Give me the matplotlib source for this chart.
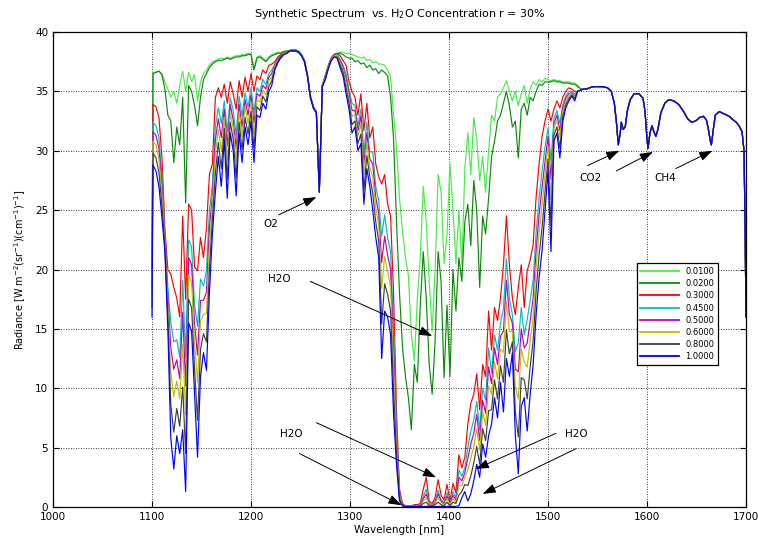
import numpy as np
import matplotlib
matplotlib.use("Agg")
import matplotlib.pyplot as plt

# wavelength sampling of the noisy part (nm), then the smooth tail shared by all curves
wl = [1100] + list(range(1101, 1540, 3))

tail_wl = [1542, 1546, 1550, 1555, 1560, 1564, 1567, 1569, 1571, 1573,
           1574, 1576, 1578, 1580, 1583, 1587, 1592, 1596, 1598, 1600,
           1601, 1603, 1605, 1607, 1609, 1611, 1614, 1618, 1622, 1627,
           1632, 1637, 1641, 1645, 1649, 1653, 1657, 1660, 1662, 1664,
           1665, 1667, 1669, 1673, 1678, 1683, 1687, 1690, 1693, 1696,
           1698, 1699, 1700]
tail_rad = [35.3, 35.4, 35.4, 35.4, 35.3, 35.0, 34.0, 32.5, 30.5, 31.5,
            32.4, 31.8, 32.0, 33.3, 34.3, 34.8, 34.8, 34.4, 33.3, 31.0,
            30.2, 31.5, 32.1, 31.6, 31.2, 31.8, 33.2, 34.0, 34.3, 34.2,
            33.9, 33.3, 32.7, 32.4, 32.5, 32.8, 32.9, 32.6, 31.8, 30.8,
            30.5, 31.8, 33.0, 33.3, 33.1, 32.9, 32.6, 32.4, 32.1, 31.6,
            30.0, 24.0, 16.0]

conc_labels = ["0.0100", "0.0200", "0.3000", "0.4500",
               "0.5000", "0.6000", "0.8000", "1.0000"]

rad_001 = [20.0, 36.6, 36.6, 36.7, 36.5, 35.8, 35.2, 34.5, 35.0, 34.0,
           35.5, 36.7, 35.0, 36.6, 35.8, 36.4, 34.2, 35.8, 36.5, 36.8,
           37.2, 37.5, 37.6, 37.7, 37.8, 37.7, 37.9, 37.8, 37.9, 38.0,
           38.0, 38.1, 38.1, 38.2, 38.2, 36.9, 37.9, 38.0, 37.8, 37.6,
           37.9, 38.1, 38.2, 38.3, 38.3, 38.4, 38.4, 38.5, 38.5, 38.5,
           38.4, 38.1, 37.6, 36.4, 34.6, 33.7, 33.3, 26.6, 35.5, 36.3,
           37.2, 37.8, 38.1, 38.2, 38.3, 38.3, 38.2, 38.2, 38.1, 38.0,
           37.9, 37.8, 37.9, 37.6, 37.7, 37.4, 37.5, 37.3, 37.3, 37.2,
           36.8, 36.2, 33.0, 30.3, 26.0, 23.3, 21.0, 19.5, 14.5, 12.3,
           17.5, 21.0, 27.0, 24.0, 19.0, 14.8, 20.0, 28.0, 26.5, 20.5,
           23.0, 28.9, 25.0, 20.5, 25.0, 20.4, 28.5, 31.5, 28.0, 32.8,
           31.0, 27.5, 29.5, 26.5, 30.0, 33.0, 32.5, 34.5, 34.8, 35.3,
           35.9, 35.0, 34.2, 35.0, 33.8, 34.8, 35.5, 34.0, 35.2, 35.8,
           35.5, 36.0, 35.8, 36.1, 36.0, 35.9, 36.0, 35.9, 35.9, 35.8,
           35.8, 35.8, 35.7, 35.7, 35.5, 35.2, 35.2, 35.2]

rad_002 = [20.0, 36.5, 36.6, 36.7, 36.4, 35.2, 33.0, 32.5, 29.0, 32.0,
           30.5, 34.5, 25.6, 35.5, 35.0, 33.8, 32.1, 34.5, 36.0, 36.5,
           37.0, 37.3, 37.5, 37.6, 37.6, 37.7, 37.8, 37.7, 37.8, 37.9,
           37.9, 38.0, 38.0, 38.1, 38.1, 36.8, 37.8, 37.9, 37.7, 37.5,
           37.8, 38.0, 38.1, 38.2, 38.2, 38.3, 38.4, 38.4, 38.5, 38.5,
           38.4, 38.1, 37.6, 36.4, 34.6, 33.7, 33.3, 26.6, 35.5, 36.3,
           37.1, 37.8, 38.1, 38.2, 38.2, 38.1, 37.9, 37.8, 37.8, 37.5,
           37.6, 37.3, 37.4, 37.0, 37.2, 36.8, 36.9, 36.5, 36.8, 36.6,
           36.3, 34.5, 31.0, 24.0, 18.0, 13.5, 11.0, 9.2, 6.5, 12.0,
           10.5, 17.0, 21.5, 17.6, 12.0, 9.5, 14.0, 21.5, 19.0, 10.9,
           17.0, 11.0, 20.0, 16.5, 21.0, 19.0, 24.0, 25.5, 22.0, 27.5,
           25.0, 18.5, 24.5, 23.0, 26.0, 29.5, 30.8, 32.5, 33.0, 34.0,
           35.0, 33.8, 32.0, 32.5, 29.4, 33.5, 34.0, 33.0, 34.5, 34.2,
           35.0, 35.6, 35.5, 35.8, 35.8, 35.8, 35.9, 35.8, 35.8, 35.7,
           35.7, 35.7, 35.6, 35.6, 35.4, 35.2, 35.2, 35.2]

rad_030 = [20.0, 33.9, 33.7, 32.8, 29.5, 23.5, 20.0, 19.6, 18.5, 17.6,
           16.0, 24.5, 17.5, 25.5, 25.0, 20.2, 19.9, 22.7, 21.0, 23.5,
           28.0, 28.9, 34.5, 35.3, 34.5, 35.6, 34.0, 35.8, 34.8, 33.5,
           35.9, 34.5, 36.2, 35.0, 36.5, 35.0, 36.3, 36.0, 36.8, 36.5,
           37.2, 37.3, 37.5, 37.9, 38.1, 38.3, 38.3, 38.4, 38.5, 38.5,
           38.4, 38.1, 37.6, 36.4, 34.6, 33.7, 33.3, 26.6, 35.5, 36.3,
           37.1, 37.8, 38.1, 38.2, 38.0, 37.6, 37.2, 35.8, 35.0, 34.5,
           33.0, 34.8, 31.7, 34.0, 31.1, 32.0, 28.9, 27.8, 27.2, 28.0,
           25.5, 24.5, 18.0, 8.0, 1.5, 0.3, 0.1, 0.1, 0.1, 0.2,
           0.2, 0.3, 1.5, 2.5, 0.5, 0.3, 0.8, 2.3, 1.0, 0.6,
           1.9, 0.5, 2.0, 1.2, 4.4, 3.3, 4.2, 7.0, 8.7, 9.5,
           11.2, 8.2, 12.0, 11.0, 16.5, 13.2, 16.8, 15.7, 17.6, 20.4,
           24.5, 20.4, 17.6, 16.2, 18.5, 20.4, 16.8, 19.9, 20.8, 22.1,
           26.1, 28.9, 31.2, 32.5, 33.5, 32.5, 33.5, 34.2, 33.6, 34.5,
           35.0, 35.3, 35.2, 35.0, 35.0, 35.1, 35.2, 35.2]

rad_045 = [18.8, 32.4, 32.1, 31.1, 28.0, 22.9, 18.5, 15.5, 13.9, 14.1,
           12.6, 19.1, 12.6, 22.5, 21.9, 17.0, 15.2, 19.2, 18.6, 19.9,
           25.0, 27.1, 32.1, 33.6, 32.3, 34.2, 31.6, 34.5, 33.4, 31.3,
           34.6, 32.9, 34.9, 33.7, 35.3, 33.2, 35.3, 35.0, 36.0, 35.6,
           36.5, 36.8, 37.3, 37.8, 38.0, 38.2, 38.3, 38.4, 38.5, 38.5,
           38.4, 38.1, 37.6, 36.4, 34.6, 33.7, 33.3, 26.6, 35.5, 36.2,
           37.0, 37.7, 38.0, 38.1, 37.7, 37.2, 36.5, 35.1, 34.0, 33.8,
           32.1, 33.5, 29.8, 32.4, 29.9, 29.9, 27.0, 25.8, 22.8, 24.6,
           22.7, 21.5, 14.9, 6.7, 1.2, 0.2, 0.1, 0.1, 0.1, 0.1,
           0.1, 0.2, 0.9, 1.5, 0.3, 0.2, 0.5, 1.4, 0.6, 0.4,
           1.2, 0.3, 1.3, 0.8, 3.1, 2.6, 3.3, 5.0, 6.4, 7.3,
           8.9, 6.5, 10.0, 9.0, 13.4, 11.3, 14.5, 13.2, 15.5, 16.7,
           20.9, 17.6, 16.2, 13.1, 13.8, 16.8, 14.5, 15.8, 17.4, 19.1,
           23.1, 26.0, 28.3, 30.3, 31.9, 29.2, 32.7, 33.4, 32.3, 33.9,
           34.6, 35.0, 35.0, 34.8, 35.0, 35.1, 35.2, 35.2]

rad_050 = [18.2, 31.6, 31.3, 30.2, 27.2, 22.6, 17.8, 13.4, 11.6, 12.4,
           10.8, 16.4, 10.2, 21.0, 20.4, 15.4, 12.8, 17.4, 17.4, 18.1,
           23.5, 26.2, 30.9, 32.7, 31.1, 33.5, 30.4, 33.9, 32.6, 30.2,
           33.9, 32.0, 34.3, 33.0, 34.7, 32.3, 34.8, 34.6, 35.5, 35.2,
           36.2, 36.5, 37.2, 37.7, 38.0, 38.2, 38.2, 38.4, 38.4, 38.4,
           38.3, 38.0, 37.5, 36.3, 34.5, 33.6, 33.2, 26.5, 35.4, 36.1,
           37.0, 37.7, 38.0, 38.0, 37.6, 37.0, 36.1, 34.8, 33.4, 33.4,
           31.7, 32.9, 28.9, 31.5, 29.3, 28.9, 26.1, 24.7, 20.6, 22.8,
           21.2, 20.0, 13.4, 6.0, 1.0, 0.2, 0.1, 0.1, 0.1, 0.1,
           0.1, 0.15, 0.7, 1.1, 0.2, 0.1, 0.4, 1.1, 0.5, 0.3,
           0.9, 0.3, 1.0, 0.6, 2.5, 2.2, 2.9, 4.1, 5.3, 6.2,
           7.8, 5.6, 9.0, 7.9, 11.8, 10.4, 13.4, 12.0, 14.4, 14.8,
           19.1, 16.2, 15.5, 11.6, 11.4, 15.0, 13.4, 13.8, 15.7, 17.6,
           21.6, 24.6, 26.9, 29.1, 31.2, 27.6, 32.3, 33.0, 31.7, 33.6,
           34.4, 34.8, 34.9, 34.6, 35.0, 35.1, 35.2, 35.2]

rad_060 = [17.6, 30.8, 30.5, 29.3, 26.4, 22.3, 17.0, 11.3, 9.3, 10.6,
           9.1, 13.7, 7.8, 19.5, 18.9, 13.8, 10.5, 15.7, 16.2, 16.3,
           22.0, 25.4, 29.7, 31.8, 30.0, 32.8, 29.2, 33.2, 31.9, 29.1,
           33.3, 31.2, 33.7, 32.3, 34.1, 31.4, 34.3, 34.1, 35.1, 34.7,
           35.9, 36.2, 37.1, 37.6, 37.9, 38.2, 38.2, 38.4, 38.4, 38.4,
           38.3, 38.0, 37.5, 36.3, 34.5, 33.6, 33.2, 26.5, 35.4, 36.1,
           37.0, 37.7, 38.0, 38.0, 37.4, 36.8, 35.8, 34.4, 32.9, 33.0,
           31.2, 32.3, 28.0, 30.7, 28.6, 27.8, 25.2, 23.7, 18.4, 21.1,
           19.8, 18.5, 11.9, 5.3, 0.9, 0.15, 0.1, 0.1, 0.1, 0.1,
           0.1, 0.1, 0.5, 0.8, 0.2, 0.1, 0.3, 0.8, 0.4, 0.2,
           0.7, 0.2, 0.7, 0.4, 1.8, 1.8, 2.5, 3.1, 4.1, 5.1,
           6.6, 4.8, 8.0, 6.9, 10.2, 9.5, 12.2, 10.8, 13.3, 13.0,
           17.3, 14.8, 14.8, 10.1, 9.1, 13.3, 12.2, 11.8, 14.0, 16.0,
           20.2, 23.1, 25.4, 28.0, 30.4, 25.9, 31.9, 32.6, 31.1, 33.3,
           34.2, 34.6, 34.8, 34.5, 35.0, 35.1, 35.2, 35.2]

rad_080 = [16.8, 29.8, 29.4, 28.2, 25.4, 21.9, 16.0, 8.6, 6.3, 8.3,
           6.8, 10.1, 4.5, 17.5, 16.8, 11.6, 7.3, 13.3, 14.6, 13.9,
           20.0, 24.2, 28.1, 30.7, 28.5, 31.9, 27.6, 32.4, 31.0, 27.7,
           32.4, 30.1, 32.8, 31.4, 33.3, 30.2, 33.7, 33.4, 34.6, 34.1,
           35.4, 35.9, 36.9, 37.5, 37.9, 38.1, 38.2, 38.4, 38.4, 38.4,
           38.3, 38.0, 37.5, 36.3, 34.5, 33.6, 33.2, 26.5, 35.4, 36.0,
           36.9, 37.6, 37.9, 37.9, 37.2, 36.6, 35.3, 34.0, 32.2, 32.5,
           30.6, 31.4, 26.7, 29.6, 27.8, 26.4, 24.0, 22.4, 15.4, 18.8,
           17.9, 16.5, 9.8, 4.4, 0.7, 0.1, 0.05, 0.05, 0.05, 0.05,
           0.05, 0.1, 0.3, 0.4, 0.1, 0.1, 0.2, 0.4, 0.2, 0.1,
           0.4, 0.1, 0.4, 0.3, 1.0, 1.3, 1.9, 1.8, 2.6, 3.7,
           5.1, 3.6, 6.6, 5.6, 8.1, 8.2, 10.7, 9.1, 11.9, 10.5,
           14.9, 12.9, 13.9, 8.0, 5.9, 10.9, 10.7, 9.1, 11.8, 14.0,
           18.2, 21.2, 23.5, 26.5, 29.3, 23.7, 31.3, 32.0, 30.2, 32.9,
           33.9, 34.4, 34.7, 34.4, 35.0, 35.1, 35.2, 35.2]

rad_100 = [16.0, 28.8, 28.3, 27.0, 24.4, 21.5, 15.0, 5.8, 3.2, 6.0,
           4.5, 6.5, 1.3, 15.5, 14.8, 9.5, 4.2, 11.0, 13.0, 11.5,
           18.0, 23.0, 26.5, 29.5, 27.0, 31.0, 26.0, 31.5, 30.0, 26.2,
           31.5, 29.0, 32.0, 30.5, 32.5, 29.0, 33.0, 32.8, 34.0, 33.5,
           35.0, 35.5, 36.8, 37.4, 37.8, 38.1, 38.2, 38.4, 38.4, 38.4,
           38.3, 38.0, 37.5, 36.3, 34.5, 33.6, 33.2, 26.5, 35.4, 36.0,
           36.9, 37.6, 37.9, 37.8, 37.0, 36.3, 34.8, 33.5, 31.5, 32.0,
           30.0, 30.6, 25.5, 28.5, 27.0, 25.0, 22.7, 21.0, 12.5, 16.5,
           16.0, 14.5, 7.8, 3.5, 0.5, 0.1, 0.05, 0.05, 0.05, 0.05,
           0.05, 0.05, 0.05, 0.05, 0.05, 0.05, 0.05, 0.05, 0.05, 0.05,
           0.05, 0.05, 0.05, 0.05, 0.1, 0.8, 1.3, 0.5, 1.1, 2.2,
           3.6, 2.5, 5.3, 4.2, 6.0, 7.0, 9.2, 7.5, 10.5, 8.0,
           12.5, 11.0, 13.0, 6.0, 2.8, 8.5, 9.2, 6.4, 9.5, 12.0,
           16.2, 19.3, 21.6, 25.0, 28.3, 21.5, 30.8, 31.5, 29.4, 32.5,
           33.6, 34.2, 34.6, 34.2, 35.0, 35.1, 35.2, 35.2]

series = [rad_001, rad_002, rad_030, rad_045, rad_050, rad_060, rad_080, rad_100]
colors = ["#44ee44", "#0a8a0a", "#ff0000", "#00bfbf",
          "#bf00bf", "#bfbf00", "#404040", "#0000ff"]

x_all = np.array(wl + tail_wl)

fig = plt.figure(figsize=(7.58, 5.36), dpi=100)
ax = fig.add_axes([53 / 758, 29 / 536, 693 / 758, 475 / 536])

for vals, col, lab in zip(series, colors, conc_labels):
    ax.plot(x_all, np.array(vals + tail_rad), color=col, lw=0.85, label=lab)

ax.set_xlim(1000, 1700)
ax.set_ylim(0, 40)
ax.set_xticks(range(1000, 1701, 100))
ax.set_yticks(range(0, 41, 5))
ax.grid(True, color="k", linestyle=(0, (1, 2)), lw=0.6)
ax.tick_params(direction="in", top=True, right=True, length=4, labelsize=7.5)
for s in ax.spines.values():
    s.set_linewidth(0.9)

ax.set_title("Synthetic Spectrum  vs. H$_2$O Concentration r = 30%", fontsize=8, pad=11)
ax.set_xlabel("Wavelength [nm]", fontsize=7.5, labelpad=2)
ax.set_ylabel("Radiance [W m$^{-2}$(sr$^{-1}$)(cm$^{-1}$)$^{-1}$]", fontsize=7, labelpad=5)

# annotations: (text, text pos, list of (arrow start, arrow tip))
arrow_kw = dict(arrowstyle="-|>,head_length=0.8,head_width=0.28", color="k",
                lw=0.7, shrinkA=0, shrinkB=0)
notes = [
    ("O2", (1220, 23.8), [((1228, 24.6), (1266, 26.1))]),
    ("H2O", (1229, 19.2), [((1260, 19.0), (1383, 14.4))]),
    ("H2O", (1241, 6.15), [((1266, 7.1), (1387, 2.5)), ((1249, 4.5), (1352, 0.15))]),
    ("H2O", (1529, 6.15), [((1508, 6.2), (1427, 3.2)), ((1528, 4.9), (1434, 1.1))]),
    ("CO2", (1543, 27.7), [((1540, 28.75), (1572, 30.0)), ((1569, 28.3), (1606, 29.9))]),
    ("CH4", (1618, 27.7), [((1629, 28.5), (1666, 30.0))]),
]
for txt, pos, arrows in notes:
    ax.text(pos[0], pos[1], txt, fontsize=7.5, ha="center", va="center")
    for start, tip in arrows:
        ax.annotate("", xy=tip, xytext=start, arrowprops=arrow_kw)

leg = ax.legend(loc="upper left", bbox_to_anchor=(0.842, 0.513), fontsize=6,
                handlelength=4.7, labelspacing=0.38, handletextpad=0.7,
                borderpad=0.45, borderaxespad=0, fancybox=False,
                framealpha=1, edgecolor="k")
leg.get_frame().set_linewidth(0.9)
for line in leg.get_lines():
    line.set_linewidth(1.3)

fig.savefig("out.png", dpi=100)
